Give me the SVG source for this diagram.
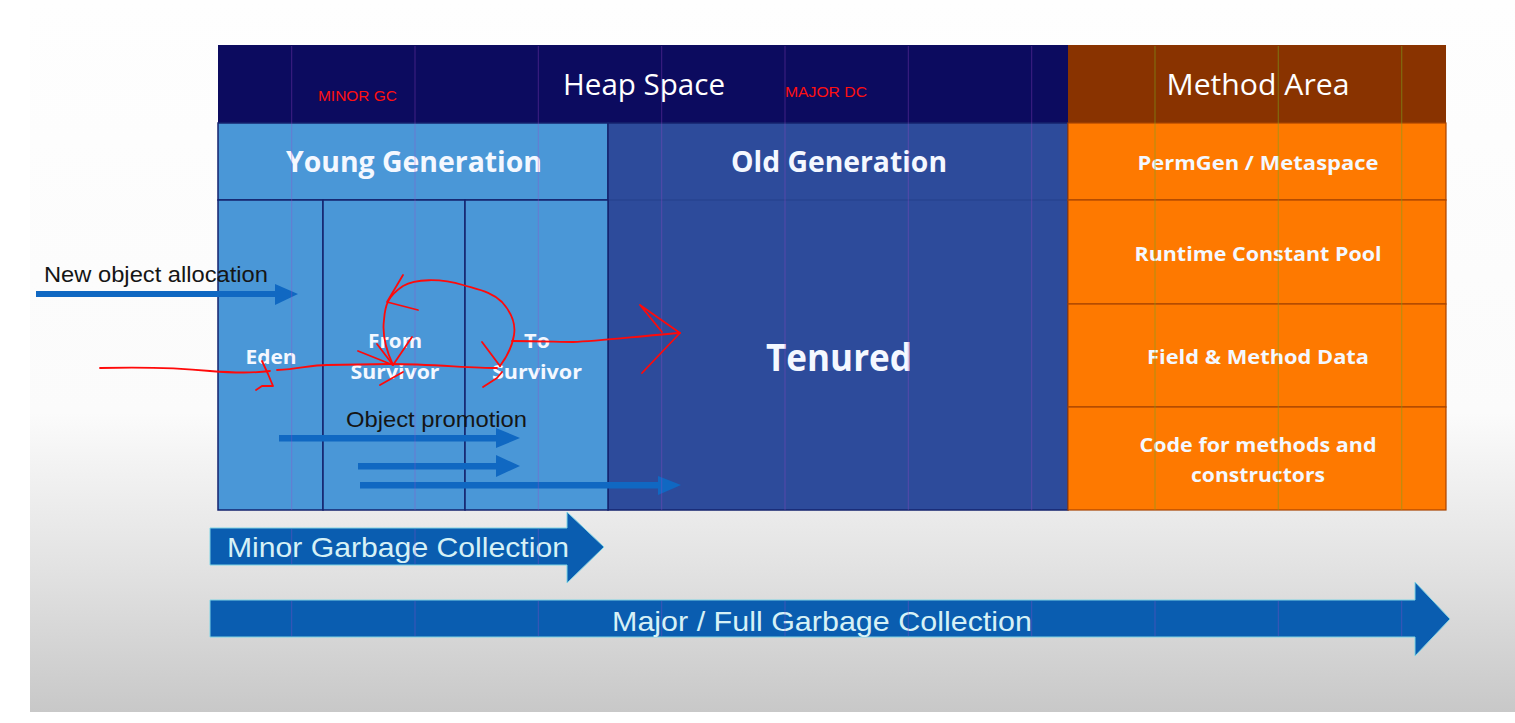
<svg xmlns="http://www.w3.org/2000/svg" width="1515" height="723" viewBox="0 0 1515 723">
  <defs>
    <linearGradient id="bg" x1="0" y1="0" x2="0" y2="1">
      <stop offset="0" stop-color="#fefefe"/>
      <stop offset="0.58" stop-color="#fbfbfb"/>
      <stop offset="0.8" stop-color="#e2e2e2"/>
      <stop offset="1" stop-color="#c8c8c8"/>
    </linearGradient>
    <style>
      .cal { font-family: "Open Sans", "Liberation Sans", sans-serif; fill: #ffffff; text-anchor: middle; }
      .calb { font-family: "Open Sans", "Liberation Sans", sans-serif; font-weight: bold; fill: #f4f8ff; text-anchor: middle; }
      .arial { font-family: "Liberation Sans", Arial, sans-serif; }
      .lbl { fill: #151515; font-size: 22px; }
      .gclbl { fill: #d6f1f6; font-size: 28px; }
      .red { font-family: "Liberation Sans", Arial, sans-serif; fill: #ff1010; font-size: 15px; }
      .cell { stroke: #14236e; stroke-width: 1.5; }
      .orow { fill: #fe7900; stroke: #a84400; stroke-width: 1.2; }
      .thin { fill: #1068c2; }
      .big { fill: #0a5db0; stroke: #7fd4e4; stroke-width: 1; }
      .scrib { fill: none; stroke: #ff0a0a; stroke-width: 1.8; stroke-linecap: round; stroke-linejoin: round; }
      .art { stroke: #a046c8; stroke-width: 1; opacity: 0.35; }
      .artg { stroke: #7aa21e; stroke-width: 1.2; opacity: 0.5; }
    </style>
  </defs>

  <rect x="0" y="0" width="1515" height="723" fill="#ffffff"/>
  <rect x="30" y="0" width="1485" height="712" fill="url(#bg)"/>

  <g id="heap-space">
    <rect x="218" y="45" width="850" height="78" fill="#0c0b5f"/>
    <text class="cal" x="644" y="95" font-size="30" textLength="162" lengthAdjust="spacingAndGlyphs">Heap Space</text>
  </g>
  <g id="method-area">
    <rect x="1068" y="45" width="378" height="78" fill="#893300"/>
    <text class="cal" x="1258" y="95" font-size="30" textLength="183" lengthAdjust="spacingAndGlyphs">Method Area</text>
  </g>
  <g id="young-generation">
    <rect x="218" y="123" width="390" height="77" fill="#4a97d7" class="cell"/>
    <text class="calb" x="414" y="172" font-size="28" textLength="256" lengthAdjust="spacingAndGlyphs">Young Generation</text>
  </g>
  <g id="old-generation">
    <rect x="608" y="123" width="460" height="387" fill="#2d4b9b" class="cell"/>
    <line x1="608" y1="200" x2="1068" y2="200" stroke="#25408c" stroke-width="1.2"/>
    <text class="calb" x="839" y="172" font-size="28" textLength="216" lengthAdjust="spacingAndGlyphs">Old Generation</text>
    <text class="calb" x="839" y="371" font-size="38" textLength="146" lengthAdjust="spacingAndGlyphs">Tenured</text>
  </g>
  <g id="eden">
    <rect x="218" y="200" width="105" height="310" fill="#4a97d7" class="cell"/>
    <text class="calb" x="271" y="364" font-size="20" textLength="51" lengthAdjust="spacingAndGlyphs">Eden</text>
  </g>
  <g id="from-survivor">
    <rect x="323" y="200" width="142" height="310" fill="#4a97d7" class="cell"/>
    <text class="calb" x="395" y="348" font-size="20" textLength="54" lengthAdjust="spacingAndGlyphs">From</text>
    <text class="calb" x="395" y="379" font-size="20" textLength="89" lengthAdjust="spacingAndGlyphs">Survivor</text>
  </g>
  <g id="to-survivor">
    <rect x="465" y="200" width="143" height="310" fill="#4a97d7" class="cell"/>
    <text class="calb" x="537" y="348" font-size="20" textLength="26" lengthAdjust="spacingAndGlyphs">To</text>
    <text class="calb" x="537" y="379" font-size="20" textLength="90" lengthAdjust="spacingAndGlyphs">Survivor</text>
  </g>
  <g id="permgen">
    <rect x="1068" y="123" width="378" height="77" class="orow"/>
    <text class="calb" x="1258" y="170" font-size="20" textLength="241" lengthAdjust="spacingAndGlyphs">PermGen / Metaspace</text>
  </g>
  <g id="runtime-constant-pool">
    <rect x="1068" y="200" width="378" height="104" class="orow"/>
    <text class="calb" x="1258" y="261" font-size="20" textLength="247" lengthAdjust="spacingAndGlyphs">Runtime Constant Pool</text>
  </g>
  <g id="field-method-data">
    <rect x="1068" y="304" width="378" height="103" class="orow"/>
    <text class="calb" x="1258" y="364" font-size="20" textLength="222" lengthAdjust="spacingAndGlyphs">Field &amp; Method Data</text>
  </g>
  <g id="code-methods">
    <rect x="1068" y="407" width="378" height="103" class="orow"/>
    <text class="calb" x="1258" y="452" font-size="20" textLength="237" lengthAdjust="spacingAndGlyphs">Code for methods and</text>
    <text class="calb" x="1258" y="482" font-size="20" textLength="134" lengthAdjust="spacingAndGlyphs">constructors</text>
  </g>

  <g id="connectors">
    <g id="new-object-allocation">
      <rect x="36" y="291" width="241" height="6" class="thin"/>
      <polygon points="275,284 298,294 275,305" class="thin"/>
      <text class="arial lbl" x="44" y="282" textLength="224" lengthAdjust="spacingAndGlyphs">New object allocation</text>
    </g>
    <g id="object-promotion">
      <text class="arial lbl" x="346" y="427" textLength="181" lengthAdjust="spacingAndGlyphs">Object promotion</text>
      <rect x="279" y="435" width="219" height="6.5" class="thin"/>
      <polygon points="496,428 520,438 496,448" class="thin"/>
      <rect x="358" y="463" width="140" height="6.5" class="thin"/>
      <polygon points="496,455 520,466 496,477" class="thin"/>
      <rect x="360" y="482" width="300" height="6.5" class="thin"/>
      <polygon points="658,476 681,485 658,495" class="thin"/>
    </g>
    <g id="minor-gc">
      <polygon points="210,528 567,528 567,512 604,547 567,583 567,565 210,565" class="big"/>
      <text class="arial gclbl" x="227" y="557" textLength="342" lengthAdjust="spacingAndGlyphs">Minor Garbage Collection</text>
    </g>
    <g id="major-gc">
      <polygon points="210,600 1415,600 1415,582 1450,619 1415,656 1415,637 210,637" class="big"/>
      <text class="arial gclbl" x="612" y="631" font-size="29" textLength="420" lengthAdjust="spacingAndGlyphs">Major / Full Garbage Collection</text>
    </g>
  </g>

  <g id="artifacts">
    <line class="art" x1="291.7" y1="46" x2="291.7" y2="510"/>
    <line class="art" x1="415" y1="46" x2="415" y2="510"/>
    <line class="art" x1="538.3" y1="46" x2="538.3" y2="510"/>
    <line class="art" x1="661.7" y1="46" x2="661.7" y2="510"/>
    <line class="art" x1="785" y1="46" x2="785" y2="510"/>
    <line class="art" x1="908.3" y1="46" x2="908.3" y2="510"/>
    <line class="art" x1="1031.7" y1="46" x2="1031.7" y2="510"/>
    <line class="artg" x1="1155" y1="46" x2="1155" y2="510"/>
    <line class="artg" x1="1278.3" y1="46" x2="1278.3" y2="510"/>
    <line class="artg" x1="1401.7" y1="46" x2="1401.7" y2="510"/>
    <line class="art" x1="291.7" y1="529" x2="291.7" y2="564"/>
    <line class="art" x1="415" y1="529" x2="415" y2="564"/>
    <line class="art" x1="538.3" y1="529" x2="538.3" y2="564"/>
    <line class="art" x1="291.7" y1="601" x2="291.7" y2="636"/>
    <line class="art" x1="415" y1="601" x2="415" y2="636"/>
    <line class="art" x1="538.3" y1="601" x2="538.3" y2="636"/>
    <line class="art" x1="661.7" y1="601" x2="661.7" y2="636"/>
    <line class="art" x1="785" y1="601" x2="785" y2="636"/>
    <line class="art" x1="908.3" y1="601" x2="908.3" y2="636"/>
    <line class="art" x1="1031.7" y1="601" x2="1031.7" y2="636"/>
    <line class="art" x1="1155" y1="601" x2="1155" y2="636"/>
    <line class="art" x1="1278.3" y1="601" x2="1278.3" y2="636"/>
    <line class="art" x1="1401.7" y1="601" x2="1401.7" y2="636"/>
  </g>

  <g id="annotations">
    <text class="red" x="318" y="101" textLength="79" lengthAdjust="spacingAndGlyphs">MINOR GC</text>
    <text class="red" x="785" y="97" textLength="82" lengthAdjust="spacingAndGlyphs">MAJOR DC</text>
    <path class="scrib" d="M100,368 C140,367 180,368 210,371 C235,373 255,373 270,371"/>
    <path class="scrib" d="M262,361 L268,374 L273,386 M256,390 L262,386 L273,386"/>
    <path class="scrib" d="M277,370 C300,369 310,365 327,365 L390,364 C430,364 470,368 497,368"/>
    <path class="scrib" d="M358,351 L393,365 L412,337 M377,344 L393,365 M380,385 L403,372"/>
    <path class="scrib" d="M393,365 C386,350 382,335 384,320 C385,305 388,296 403,286 C415,279 440,278 463,285 C480,290 492,292 502,302 C511,312 516,323 514,335 C512,348 506,358 500,366"/>
    <path class="scrib" d="M403,275 L387,302 L418,310"/>
    <path class="scrib" d="M482,342 L500,366 M483,387 L497,378 L502,372"/>
    <path class="scrib" d="M512,341 C540,341 560,342 573,342 C600,341 640,336 680,333"/>
    <path class="scrib" d="M640,305 L680,333 L642,373 M640,305 L662,332"/>
  </g>
</svg>
